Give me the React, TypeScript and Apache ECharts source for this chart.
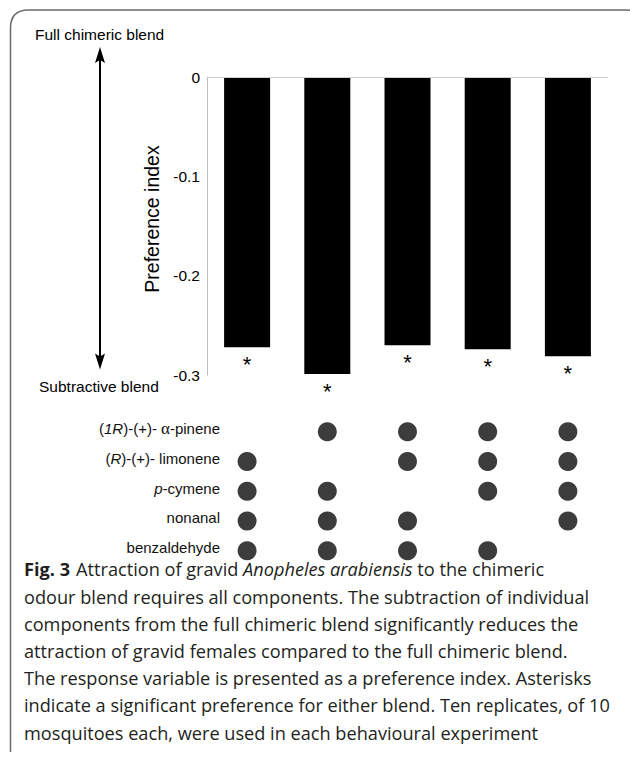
import React, { useEffect, useRef } from "react";
import * as echarts from "echarts";

// ---- data ----
const treatments = ["−α-pinene", "−limonene", "−p-cymene", "−nonanal", "−benzaldehyde"];
const preferenceIndex = [-0.272, -0.299, -0.27, -0.274, -0.281];
const significance = ["*", "*", "*", "*", "*"];
const yTicks = [-0.3, -0.2, -0.1, 0];
const components = ["(1R)-(+)- α-pinene", "(R)-(+)- limonene", "p-cymene", "nonanal", "benzaldehyde"];
const componentLabels = [
  "({i|1R})-(+)- {g|α}-pinene",
  "({i|R})-(+)- limonene",
  "{i|p}-cymene",
  "nonanal",
  "benzaldehyde",
];
// rows = components, columns = treatments (1 = component present in blend)
const presence = [
  [0, 1, 1, 1, 1],
  [1, 0, 1, 1, 1],
  [1, 1, 0, 1, 1],
  [1, 1, 1, 0, 1],
  [1, 1, 1, 1, 0],
];
const topLabel = "Full chimeric blend";
const bottomLabel = "Subtractive blend";
const yAxisTitle = "Preference index";
const captionLines = [
  "{b|Fig. 3}Attraction of gravid {i|Anopheles arabiensis} to the chimeric",
  "odour blend requires all components. The subtraction of individual",
  "components from the full chimeric blend significantly reduces the",
  "attraction of gravid females compared to the full chimeric blend.",
  "The response variable is presented as a preference index. Asterisks",
  "indicate a significant preference for either blend. Ten replicates, of 10",
  "mosquitoes each, were used in each behavioural experiment",
];

const FRAME_D = "M10.5 752 L10.5 28 Q10.5 10 28.5 10 L627 10 Q645 10 645 28 L645 752";

export default function App() {
  const ref = useRef<HTMLDivElement>(null);
  useEffect(() => {
    const el = ref.current!;
    try {
      echarts.graphic.registerShape("frame", echarts.graphic.extendPath(FRAME_D, {}));
    } catch (e) {}
    const chart = echarts.init(el, null, { renderer: "svg" });
    const sans = "'Liberation Sans', Arial, Helvetica, sans-serif";
    const capFamily = "'Open Sans', 'Noto Sans', sans-serif";

    // fit caption font size to the reference line widths
    const capLeft = 24;
    const capRight = [559.3, 592.7, 585, 570, 583, 604, 543];
    let capSize = 16;
    try {
      const ctx = document.createElement("canvas").getContext("2d")!;
      ctx.font = "100px 'Open Sans'";
      let tw = 0;
      let mw = 0;
      for (let k = 1; k < captionLines.length; k++) {
        tw += capRight[k] - capLeft;
        mw += ctx.measureText(captionLines[k]).width;
      }
      if (mw > 0) capSize = (100 * tw) / mw;
    } catch (e) {}
    const capBase0 = 576.5;
    const capStep = 27.2;

    const scatterData: number[][] = [];
    presence.forEach((row, r) =>
      row.forEach((v, c) => {
        if (v) scatterData.push([c, r]);
      })
    );

    const captionGraphics = captionLines.map((line, k) => ({
      type: "text",
      x: capLeft,
      y: capBase0 + k * capStep - 0.388 * capSize,
      silent: true,
      style: {
        text: line,
        fill: "#231f20",
        fontSize: capSize,
        lineHeight: Math.round(capSize),
        fontFamily: capFamily,
        align: "left",
        verticalAlign: "middle",
        rich: {
          b: {
            fontWeight: "bold",
            fontSize: capSize,
            lineHeight: Math.round(capSize),
            fontFamily: capFamily,
            fill: "#231f20",
            padding: [0, 6, 0, 0],
          },
          i: {
            fontStyle: "italic",
            fontSize: capSize,
            lineHeight: Math.round(capSize),
            fontFamily: capFamily,
            fill: "#231f20",
          },
        },
      },
    }));

    const option: any = {
      animation: false,
      backgroundColor: "#fff",
      grid: [
        { left: 207, top: 77, width: 401, height: 298 },
        { left: 207, top: 417, width: 401, height: 148.5 },
      ],
      xAxis: [
        {
          type: "category",
          gridIndex: 0,
          data: treatments,
          z: 5,
          axisLine: { show: true, onZero: true, lineStyle: { color: "#cfcfcf", width: 1 } },
          axisTick: { show: false },
          axisLabel: { show: false },
          splitLine: { show: false },
        },
        {
          type: "category",
          gridIndex: 1,
          data: treatments,
          show: false,
        },
      ],
      yAxis: [
        {
          type: "value",
          gridIndex: 0,
          min: yTicks[0],
          max: yTicks[yTicks.length - 1],
          interval: 0.1,
          axisLine: { show: true, lineStyle: { color: "#bdbdbd", width: 1 } },
          axisTick: { show: false },
          splitLine: { show: false },
          axisLabel: { fontSize: 15.5, color: "#000", margin: 7, fontFamily: sans },
          name: yAxisTitle,
          nameLocation: "middle",
          nameGap: 34,
          nameTextStyle: { fontSize: 19.5, color: "#000", fontFamily: sans, padding: [0, 0, 0, 14] },
        },
        {
          type: "category",
          gridIndex: 1,
          data: components,
          inverse: true,
          axisLine: { show: false },
          axisTick: { show: false },
          splitLine: { show: false },
          axisLabel: {
            margin: -13,
            align: "right",
            fontSize: 15,
            lineHeight: 12,
            padding: [0, 0, 6, 0],
            color: "#111",
            fontFamily: sans,
            formatter: (_v: string, i: number) => componentLabels[i],
            rich: {
              i: { fontStyle: "italic", fontSize: 15, lineHeight: 12, fontFamily: sans, color: "#111" },
              g: {
                fontSize: 17,
                lineHeight: 12,
                fontFamily: "'Liberation Serif', 'DejaVu Serif', serif",
                color: "#111",
              },
            },
          },
        },
      ],
      series: [
        {
          type: "bar",
          xAxisIndex: 0,
          yAxisIndex: 0,
          data: preferenceIndex,
          barWidth: 46,
          itemStyle: { color: "#000" },
          label: {
            show: true,
            position: "bottom",
            distance: 6,
            formatter: (p: any) => significance[p.dataIndex],
            fontSize: 22,
            color: "#000",
            fontFamily: sans,
          },
        },
        {
          type: "scatter",
          xAxisIndex: 1,
          yAxisIndex: 1,
          data: scatterData,
          symbol: "circle",
          symbolSize: 19,
          itemStyle: { color: "#3c3c3c", opacity: 1 },
        },
      ],
      graphic: [
        {
          type: "frame",
          x: 0,
          y: 0,
          silent: true,
          style: { fill: "none", stroke: "#6a6a6a", lineWidth: 1.5 },
        },
        {
          type: "line",
          silent: true,
          shape: { x1: 100, y1: 58, x2: 100, y2: 358 },
          style: { stroke: "#000", lineWidth: 2 },
        },
        {
          type: "polygon",
          silent: true,
          shape: { points: [[100, 47], [95, 63], [100, 60], [105, 63]] },
          style: { fill: "#000" },
        },
        {
          type: "polygon",
          silent: true,
          shape: { points: [[100, 369.5], [95, 353.5], [100, 356.5], [105, 353.5]] },
          style: { fill: "#000" },
        },
        {
          type: "text",
          x: 35,
          y: 34,
          silent: true,
          style: { text: topLabel, fill: "#000", fontSize: 15.5, fontFamily: sans, verticalAlign: "middle" },
        },
        {
          type: "text",
          x: 39,
          y: 386.5,
          silent: true,
          style: { text: bottomLabel, fill: "#000", fontSize: 15.5, fontFamily: sans, verticalAlign: "middle" },
        },
        ...captionGraphics,
      ],
    };
    chart.setOption(option);
    return () => chart.dispose();
  }, []);
  return (
    <div
      ref={ref}
      style={{ position: "absolute", left: 0, top: 0, width: 630, height: 761, background: "#fff" }}
    />
  );
}
